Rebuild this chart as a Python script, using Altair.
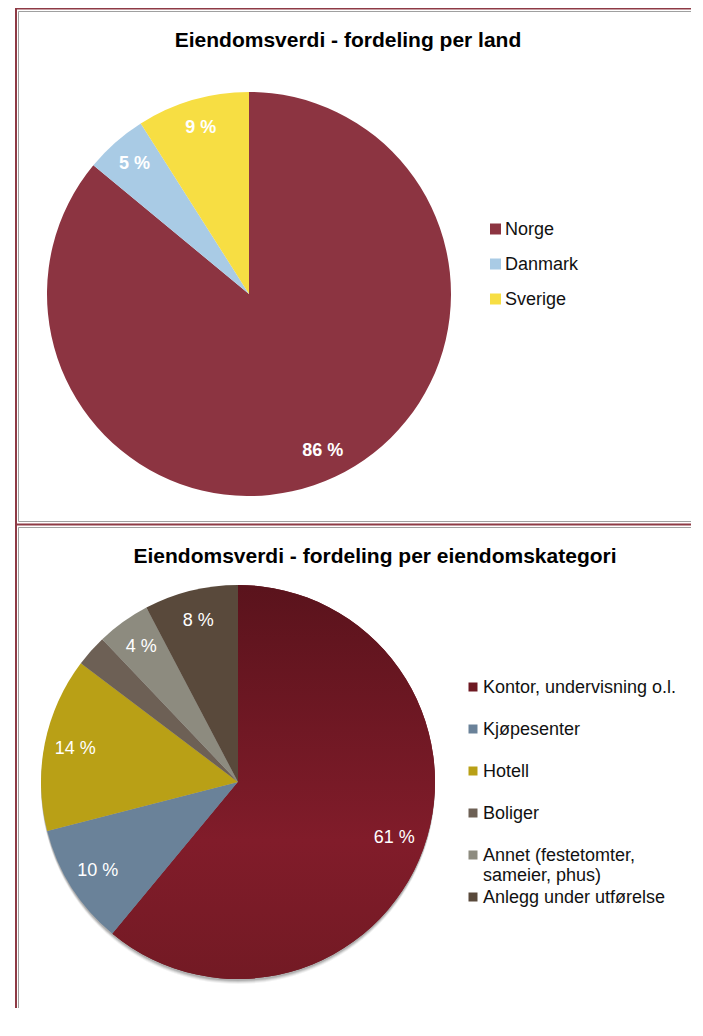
import altair as alt
import pandas as pd

FONT = "Liberation Sans"

# ---------------- data ----------------
title_land = "Eiendomsverdi - fordeling per land"
land_categories = ["Norge", "Danmark", "Sverige"]
land_values = [86, 5, 9]
land_labels = ["86 %", "5 %", "9 %"]
land_colors = ["#8C3441", "#A9CBE5", "#F7DE43"]

title_kat = "Eiendomsverdi - fordeling per eiendomskategori"
kat_categories = ["Kontor, undervisning o.l.", "Kjøpesenter", "Hotell", "Boliger",
                  "Annet (festetomter,\nsameier, phus)", "Anlegg under utførelse"]
kat_values = [61, 10, 14.3, 2.6, 4.4, 7.7]
kat_labels = ["61 %", "10 %", "14 %", "", "4 %", "8 %"]
kat_colors = ["#6E1922", "#6A8299", "#B9A016", "#6D6055", "#8D8B7F", "#59493B"]

land_df = pd.DataFrame({"cat": land_categories, "value": land_values,
                        "label": land_labels, "color": land_colors,
                        "idx": list(range(len(land_categories)))})
kat_df = pd.DataFrame({"cat": kat_categories, "value": kat_values,
                       "label": kat_labels, "color": kat_colors,
                       "idx": list(range(len(kat_categories)))})
one = pd.DataFrame({"k": [0]})

W, H = 683, 1000


def pie(df, cx, cy, r, lr, weight, gradient=None, shadow=False):
    base = alt.Chart(df).encode(
        theta=alt.Theta("value:Q", stack=True),
        order=alt.Order("idx:Q"),
        x=alt.value(cx), y=alt.value(cy),
    )
    layers = []
    if shadow:
        for dy, op in [(2, 0.12), (3, 0.10), (4, 0.07), (5, 0.05)]:
            layers.append(
                alt.Chart(one).mark_arc(outerRadius=r, theta=0, theta2=6.2832,
                                        color="#000000", opacity=op)
                .encode(x=alt.value(cx), y=alt.value(cy + dy))
            )
    layers.append(base.mark_arc(outerRadius=r).encode(color=alt.Color("color:N", scale=None)))
    if gradient is not None:
        layers.append(
            base.mark_arc(outerRadius=r, fill=gradient).encode(
                fillOpacity=alt.when(alt.datum.idx == 0).then(alt.value(1)).otherwise(alt.value(0))
            )
        )
    layers.append(
        base.mark_text(radius=lr, font=FONT, fontSize=18, fontWeight=weight, color="white")
        .encode(text="label:N")
    )
    return alt.layer(*layers)


kontor_grad = alt.LinearGradient(
    gradient="linear",
    stops=[alt.GradientStop(color="#5A131C", offset=0),
           alt.GradientStop(color="#811C2A", offset=0.65),
           alt.GradientStop(color="#731A24", offset=1)],
    x1=0, x2=0, y1=0, y2=1,
)

pie1 = pie(land_df, 241, 286, 202, 173, "bold")
pie2 = pie(kat_df, 230, 774, 197, 166, "normal", gradient=kontor_grad, shadow=True)


def legend(df, x_sq, x_tx, y0, step, size):
    b = alt.Chart(df).transform_calculate(py=f"{y0} + datum.idx * {step}")
    sq = b.mark_square(size=size, opacity=1).encode(
        x=alt.value(x_sq), y=alt.Y("py:Q", scale=None), color=alt.Color("color:N", scale=None))
    tx = b.mark_text(align="left", baseline="top", dy=-8, font=FONT, fontSize=18,
                     lineBreak="\n", lineHeight=20, color="#111111").encode(
        x=alt.value(x_tx), y=alt.Y("py:Q", scale=None), text="cat:N")
    return alt.layer(sq, tx)


leg1 = legend(land_df, 487.5, 497, 221, 35, 121)
leg2 = legend(kat_df, 465, 475, 679, 42, 81)


def title(t, x, y):
    return alt.Chart(pd.DataFrame({"t": [t]})).mark_text(
        font=FONT, fontSize=21, fontWeight="bold", color="#000000", align="center", baseline="middle"
    ).encode(x=alt.value(x), y=alt.value(y), text="t:N")


def hline(x1, x2, y, color, sw):
    return alt.Chart(one).mark_rule(color=color, strokeWidth=sw).encode(
        x=alt.value(x1), x2=alt.value(x2), y=alt.value(y), y2=alt.value(y))


def vline(x, y1, y2, color, sw):
    return alt.Chart(one).mark_rule(color=color, strokeWidth=sw).encode(
        x=alt.value(x), x2=alt.value(x), y=alt.value(y1), y2=alt.value(y2))


RED = "#8E3A45"
GREY = "#A0A0A0"
borders = [
    hline(7, W, 0.5, RED, 2),
    hline(10.5, W, 3.5, GREY, 1),
    vline(8, 0, H, RED, 2),
    vline(10.5, 3.5, 513.5, GREY, 1),
    hline(10.5, W, 513.5, GREY, 1),
    hline(7, W, 516.5, RED, 2),
    hline(10.5, W, 519.5, GREY, 1),
    vline(10.5, 519.5, H, GREY, 1),
]

chart = alt.layer(
    *borders,
    title(title_land, 340, 33),
    title(title_kat, 367, 549),
    pie1, pie2, leg1, leg2,
).resolve_scale(theta="independent").properties(
    width=W, height=H, padding=0, autosize=alt.AutoSizeParams(type="none")
).configure_view(stroke=None)

chart.save("out.html", embed_options={"renderer": "svg", "actions": False})
